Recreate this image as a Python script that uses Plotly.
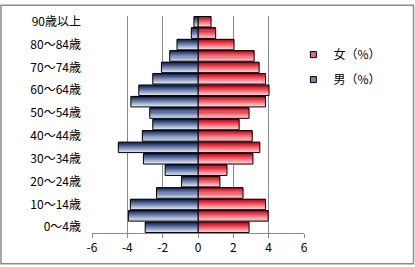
import plotly.graph_objects as go

ages = ["0〜4歳", "5〜9歳", "10〜14歳", "15〜19歳", "20〜24歳", "25〜29歳", "30〜34歳",
        "35〜39歳", "40〜44歳", "45〜49歳", "50〜54歳", "55〜59歳", "60〜64歳", "65〜69歳",
        "70〜74歳", "75〜79歳", "80〜84歳", "85〜89歳", "90歳以上"]
male = [-2.99, -3.94, -3.83, -2.35, -0.93, -1.86, -3.09, -4.51, -3.15, -2.56,
        -2.73, -3.80, -3.35, -2.56, -2.07, -1.60, -1.19, -0.38, -0.23]
female = [2.89, 3.97, 3.82, 2.55, 1.24, 1.64, 3.11, 3.50, 3.07, 2.33,
          2.89, 3.82, 4.02, 3.82, 3.46, 3.18, 2.04, 1.00, 0.74]
tick_labels = ages[::2]
x_ticks = [-6, -4, -2, 0, 2, 4, 6]

W = 0.92
N = 10

def lerp(c1, c2, t):
    return "rgb(%d,%d,%d)" % tuple(round(a + (b - a) * t) for a, b in zip(c1, c2))

blue_dark, blue_light = (28, 52, 110), (232, 236, 246)
red_dark, red_light = (222, 10, 28), (246, 222, 226)

fig = go.Figure()
for vals, dark, light in [(female, red_dark, red_light), (male, blue_dark, blue_light)]:
    for i in range(N):
        # i=0 bottom slice (light) ... i=N-1 top slice (dark)
        t = 1 - i / (N - 1)
        fig.add_trace(go.Bar(
            x=vals, y=ages, orientation="h", base=0,
            width=W / N + 0.004, offset=-W / 2 + i * W / N,
            marker=dict(color=lerp(dark, light, t), line=dict(width=0)),
            showlegend=False, hoverinfo="skip"))
    fig.add_trace(go.Bar(
        x=vals, y=ages, orientation="h", base=0, width=W, offset=-W / 2,
        marker=dict(color="rgba(0,0,0,0)", line=dict(color="black", width=1)),
        showlegend=False, hoverinfo="skip"))

for name, dark, light, grp in [("女（%）", red_dark, red_light, "f"), ("男（%）", blue_dark, blue_light, "m")]:
    fig.add_trace(go.Scatter(
        x=[None], y=[ages[0]], mode="markers", name=name, legendgroup=grp,
        marker=dict(symbol="square", size=6, color=lerp(dark, light, 0.45),
                    line=dict(color="black", width=1))))

font = "Noto Sans CJK JP"
fig.update_layout(
    width=415, height=267,
    margin=dict(l=92, r=111, t=12, b=33),
    barmode="overlay",
    paper_bgcolor="white", plot_bgcolor="white",
    font=dict(family=font, size=12, color="black"),
    showlegend=True,
    legend=dict(x=0.95, y=0.889, xanchor="left", yanchor="top",
                bgcolor="rgba(0,0,0,0)", font=dict(size=12, family=font),
                traceorder="grouped", tracegroupgap=6, itemsizing="trace"),
    xaxis=dict(range=[-6, 6], tickvals=x_ticks, ticktext=[str(v) for v in x_ticks],
               showgrid=True, gridcolor="#8a8a8a", gridwidth=1,
               zeroline=True, zerolinecolor="#8a8a8a", zerolinewidth=1,
               showline=True, linecolor="#8a8a8a", linewidth=1,
               ticks="outside", ticklen=4, tickcolor="#8a8a8a",
               tickfont=dict(size=12, family=font)),
    yaxis=dict(type="category", categoryorder="array", categoryarray=ages,
               range=[-0.5, len(ages) - 0.5],
               tickvals=tick_labels, ticktext=tick_labels,
               showgrid=False, zeroline=False, showline=False,
               ticks="", ticklabelstandoff=10,
               tickfont=dict(size=12, family=font)),
    shapes=[dict(type="rect", xref="paper", yref="paper",
                 x0=(1 - 92) / 212, x1=(413.5 - 92) / 212,
                 y0=(234 - 265.5) / 222, y1=(234 - 1) / 222,
                 line=dict(color="#8c8c8c", width=1.5), layer="below")],
)

fig.write_html("out.html")
